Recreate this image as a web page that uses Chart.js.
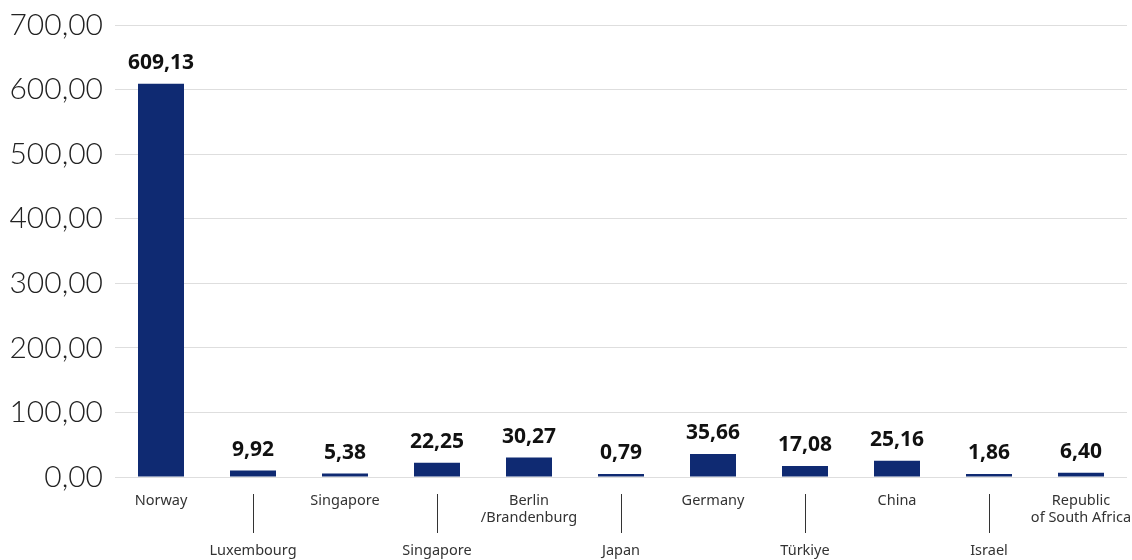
<!DOCTYPE html>
<html>
<head>
<meta charset="utf-8">
<script src="https://cdn.jsdelivr.net/npm/chart.js@4"></script>
<style>
  html, body { margin: 0; padding: 0; background: #fff; }
  #wrap { width: 1132px; height: 560px; }
</style>
</head>
<body>
<div id="wrap"><canvas id="chart"></canvas></div>
<script>
const categories = [
  'Norway', 'Luxembourg', 'Singapore', 'Singapore', ['Berlin', '/Brandenburg'],
  'Japan', 'Germany', 'Türkiye', 'China', 'Israel', ['Republic', 'of South Africa']
];
const values = [609.13, 9.92, 5.38, 22.25, 30.27, 0.79, 35.66, 17.08, 25.16, 1.86, 6.40];
const yTicks = [0, 100, 200, 300, 400, 500, 600, 700];

const fmt = v => v.toFixed(2).replace('.', ',');

// value labels above the bars
const valueLabels = {
  id: 'valueLabels',
  afterDatasetsDraw(chart) {
    const ctx = chart.ctx;
    const meta = chart.getDatasetMeta(0);
    ctx.save();
    ctx.font = 'bold 21px "Noto Sans"';
    ctx.fillStyle = '#111';
    ctx.textAlign = 'center';
    ctx.textBaseline = 'bottom';
    meta.data.forEach((bar, i) => {
      ctx.fillText(fmt(values[i]), bar.x, bar.y - 10);
    });
    ctx.restore();
  }
};

// small vertical leader lines for the staggered labels
const leaders = {
  id: 'leaders',
  afterDraw(chart) {
    const ctx = chart.ctx;
    const x = chart.scales.x;
    ctx.save();
    ctx.strokeStyle = '#333';
    ctx.lineWidth = 1;
    categories.forEach((c, i) => {
      if (i % 2 === 1) {
        const px = Math.round(x.getPixelForValue(i)) + 0.5;
        ctx.beginPath();
        ctx.moveTo(px, 494);
        ctx.lineTo(px, 533);
        ctx.stroke();
      }
    });
    ctx.restore();
  }
};

new Chart(document.getElementById('chart'), {
  type: 'bar',
  data: {
    labels: categories,
    datasets: [{
      data: values,
      backgroundColor: '#0f2a72',
      barPercentage: 0.5,
      categoryPercentage: 1,
      minBarLength: 3
    }]
  },
  options: {
    responsive: true,
    maintainAspectRatio: false,
    animation: false,
    layout: { padding: { top: 25, right: 5, left: 0, bottom: 0 } },
    plugins: { legend: { display: false }, tooltip: { enabled: false } },
    scales: {
      x: {
        grid: { display: false },
        border: { display: false },
        afterFit: s => { s.height = 83; s.paddingRight = 0; s.paddingLeft = 0; },
        ticks: {
          maxRotation: 0,
          autoSkip: false,
          padding: 8,
          color: '#333',
          font: { family: '"Noto Sans"', size: 14.5, lineHeight: 1.15 },
          callback: function (v, i) {
            const lab = categories[i];
            if (i % 2 === 1) return ['', '', '', lab];
            return lab;
          }
        }
      },
      y: {
        min: 0,
        max: 700,
        afterFit: s => { s.width = 115; s.paddingTop = 0; s.paddingBottom = 0; },
        afterBuildTicks: s => { s.ticks = yTicks.map(v => ({ value: v })); },
        grid: { color: '#dedede', drawTicks: false },
        border: { display: false },
        ticks: {
          padding: 12,
          color: '#222',
          font: { family: 'Lato', size: 30, weight: 300, lineHeight: 1 },
          callback: v => fmt(v)
        }
      }
    }
  },
  plugins: [valueLabels, leaders]
});
</script>
</body>
</html>
